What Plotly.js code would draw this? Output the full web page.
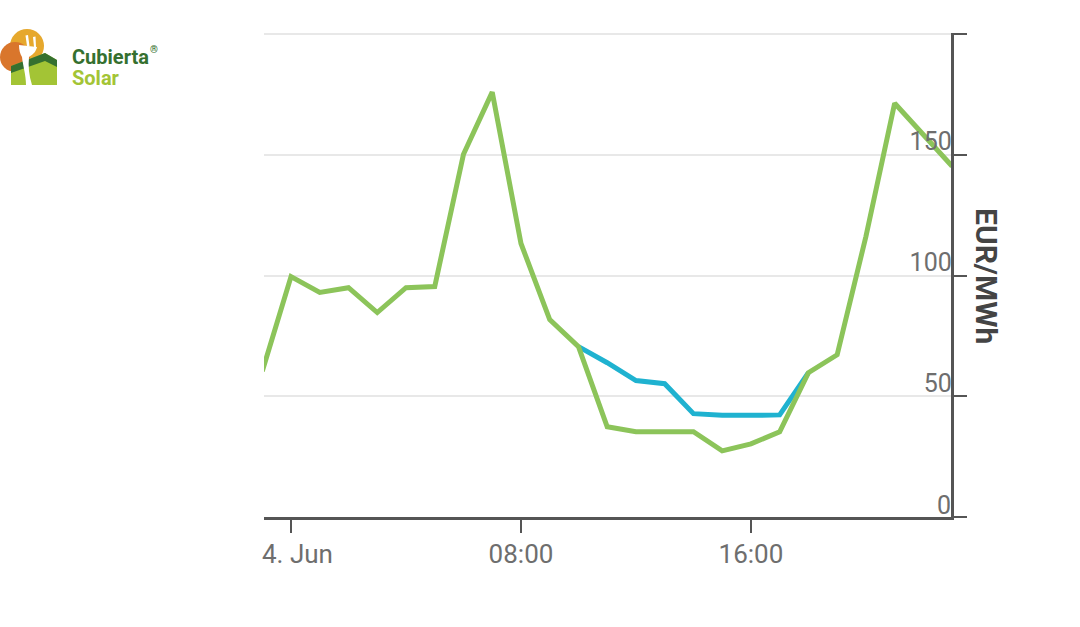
<!DOCTYPE html>
<html>
<head>
<meta charset="utf-8">
<script src="https://cdn.plot.ly/plotly-3.0.1.min.js"></script>
<style>
  html, body { margin: 0; padding: 0; background: #fff; }
  #chart { width: 1080px; height: 627px; }
</style>
</head>
<body>
<div id="chart"></div>
<script>
const hours = [
  "2023-06-03 23:00", "2023-06-04 00:00", "2023-06-04 01:00", "2023-06-04 02:00",
  "2023-06-04 03:00", "2023-06-04 04:00", "2023-06-04 05:00", "2023-06-04 06:00",
  "2023-06-04 07:00", "2023-06-04 08:00", "2023-06-04 09:00", "2023-06-04 10:00",
  "2023-06-04 11:00", "2023-06-04 12:00", "2023-06-04 13:00", "2023-06-04 14:00",
  "2023-06-04 15:00", "2023-06-04 16:00", "2023-06-04 17:00", "2023-06-04 18:00",
  "2023-06-04 19:00", "2023-06-04 20:00", "2023-06-04 21:00", "2023-06-04 22:00",
  "2023-06-04 23:00",
];
const green_values = [
  60.4, 99.6, 93, 95, 84.7, 95, 95.5, 150.3,
  176, 113.3, 81.8, 70.6, 37.4, 35.3, 35.3, 35.3,
  27.4, 30.3, 35.3, 59.8, 67.2, 116.2, 171.4, 158.6,
  145.3,
];
const blue_hours = [
  "2023-06-04 10:00", "2023-06-04 11:00", "2023-06-04 12:00", "2023-06-04 13:00",
  "2023-06-04 14:00", "2023-06-04 15:00", "2023-06-04 16:00", "2023-06-04 17:00",
  "2023-06-04 18:00",
];
const blue_values = [70.6, 63.9, 56.5, 55.2, 42.8, 42.1, 42.1, 42.3, 59.8];

const x_tickvals = ["2023-06-04 00:00", "2023-06-04 08:00", "2023-06-04 16:00"];
const x_ticktext = ["\u00a0\u00a04. Jun", "08:00", "16:00"];
const y_tickvals = [0, 50, 100, 150, 200];
// the 0 label would be dropped by plotly as it sits inside the plot, see annotations
const y_ticktext = ["", "50", "100", "150", ""];

const GREEN = "#8cc45a";
const BLUE = "#1fb2d0";
const AXIS_COLOR = "#555555";
const TEXT_COLOR = "#6e6e6e";
const FONT = "Roboto, Arial, sans-serif";

const WIDTH = 1080, HEIGHT = 627;
const MARGIN = {l: 264, r: 129, t: 33, b: 110, pad: 0};

// page pixels to paper fractions, for the logo and the side title
const px = (x) => (x - MARGIN.l) / (WIDTH - MARGIN.l - MARGIN.r);
const py = (y) => (HEIGHT - MARGIN.b - y) / (HEIGHT - MARGIN.t - MARGIN.b);

const logo_svg = `<svg xmlns="http://www.w3.org/2000/svg" width="58" height="58" viewBox="0 28 58 58">
  <circle cx="27" cy="46" r="17" fill="#e6a82d"/>
  <circle cx="15" cy="57" r="15" fill="#d9762c"/>
  <path d="M11 85V66L45 53L57 60V85Z" fill="#a3c435"/>
  <path d="M11 73V66L45 53L57 60V67L45 61Z" fill="#35702f"/>
  <path d="M26 85C26 75 23 66 22 57C20 54 19 50 19 45L37 47C36 51 34 54 29 57C28 66 29 76 32 85Z" fill="#fff"/>
  <path d="M25.500 35.500L28 35L29.500 46L27 46ZM33 37L35.500 36.500L36 47L34 47Z" fill="#fff"/>
</svg>`;

const traces = [
  {
    x: blue_hours,
    y: blue_values,
    type: "scatter",
    mode: "lines",
    line: {color: BLUE, width: 5},
    hoverinfo: "skip",
  },
  {
    x: hours,
    y: green_values,
    type: "scatter",
    mode: "lines",
    line: {color: GREEN, width: 5},
    hoverinfo: "skip",
  },
];

const layout = {
  width: WIDTH,
  height: HEIGHT,
  margin: MARGIN,
  paper_bgcolor: "#ffffff",
  plot_bgcolor: "#ffffff",
  showlegend: false,
  xaxis: {
    type: "date",
    range: ["2023-06-03 23:03:36", "2023-06-04 22:57:36"],
    tickmode: "array",
    tickvals: x_tickvals,
    ticktext: x_ticktext,
    showgrid: false,
    zeroline: false,
    showline: true,
    linecolor: AXIS_COLOR,
    linewidth: 2.5,
    ticks: "outside",
    ticklen: 13,
    tickwidth: 2,
    tickcolor: AXIS_COLOR,
    tickfont: {family: FONT, size: 26, color: TEXT_COLOR},
    ticklabelstandoff: -1,
  },
  yaxis: {
    side: "right",
    range: [0, 200.5],
    tickmode: "array",
    tickvals: y_tickvals,
    ticktext: y_ticktext,
    ticklabelposition: "inside top",
    ticklabelshift: 5,
    gridcolor: "#e8e8e8",
    gridwidth: 2,
    zeroline: false,
    showline: true,
    linecolor: AXIS_COLOR,
    linewidth: 2.5,
    ticks: "outside",
    ticklen: 13,
    tickwidth: 2,
    tickcolor: AXIS_COLOR,
    tickfont: {family: FONT, size: 25, color: TEXT_COLOR},
    automargin: false,
  },
  images: [{
    source: "data:image/svg+xml;charset=utf-8," + encodeURIComponent(logo_svg),
    xref: "paper", yref: "paper",
    x: px(0), y: py(28),
    sizex: px(58) - px(0), sizey: py(28) - py(86),
    xanchor: "left", yanchor: "top",
    sizing: "stretch",
    layer: "above",
  }],
  annotations: [
    {
      text: "0",
      xref: "paper", yref: "y",
      x: 1, y: 0,
      xanchor: "right", yanchor: "bottom",
      xshift: 2, yshift: -5,
      showarrow: false,
      font: {family: FONT, size: 25, color: TEXT_COLOR},
    },
    {
      text: "EUR/MWh",
      xref: "paper", yref: "paper",
      x: px(987), y: py(276),
      xanchor: "center", yanchor: "middle",
      textangle: 90,
      showarrow: false,
      font: {family: FONT, size: 30, color: "#444444", weight: 700},
    },
    {
      text: "Cubierta",
      xref: "paper", yref: "paper",
      x: px(70), y: py(57),
      xanchor: "left", yanchor: "middle",
      showarrow: false,
      font: {family: FONT, size: 20, color: "#35702f", weight: 700},
    },
    {
      text: "®",
      xref: "paper", yref: "paper",
      x: px(148), y: py(49),
      xanchor: "left", yanchor: "middle",
      showarrow: false,
      font: {family: FONT, size: 10, color: "#35702f", weight: 700},
    },
    {
      text: "Solar",
      xref: "paper", yref: "paper",
      x: px(70), y: py(78),
      xanchor: "left", yanchor: "middle",
      showarrow: false,
      font: {family: FONT, size: 20, color: "#a3c435", weight: 700},
    },
  ],
};

Plotly.newPlot("chart", traces, layout, {displayModeBar: false, staticPlot: true});
</script>
</body>
</html>
